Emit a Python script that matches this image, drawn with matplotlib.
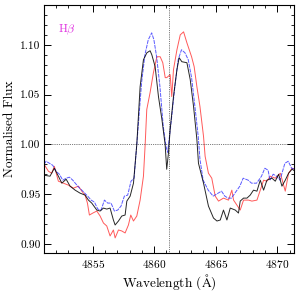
import matplotlib
matplotlib.use("Agg")
import matplotlib.pyplot as plt
from matplotlib.ticker import MultipleLocator, FormatStrFormatter

plt.rcParams["font.family"] = "serif"
plt.rcParams["font.serif"] = ["cmr10", "DejaVu Serif"]
plt.rcParams["mathtext.fontset"] = "cm"
plt.rcParams["axes.formatter.use_mathtext"] = True
plt.rcParams["axes.unicode_minus"] = False

line_centre = 4861.24

black_wave = [4851.06, 4851.54, 4851.89, 4852.22, 4852.50, 4852.85, 4853.17, 4853.58, 4853.98,
              4854.39, 4854.66, 4854.93, 4855.34, 4855.61, 4855.88, 4856.15, 4856.42, 4856.69,
              4856.83, 4857.10, 4857.37, 4857.64, 4857.78, 4858.05, 4858.32, 4858.59, 4858.86,
              4859.13, 4859.41, 4859.67, 4859.81, 4860.08, 4860.35, 4860.63, 4860.89, 4861.02,
              4861.16, 4861.30, 4861.57, 4861.85, 4862.03, 4862.25, 4862.66, 4862.93, 4863.20,
              4863.47, 4863.60, 4864.01, 4864.41, 4864.82, 4865.10, 4865.37, 4865.63, 4865.91,
              4866.18, 4866.59, 4866.85, 4866.99, 4867.26, 4867.54, 4867.80, 4868.07, 4868.35,
              4868.62, 4868.89, 4869.16, 4869.57, 4869.84, 4870.11, 4870.38, 4870.65, 4870.92,
              4871.20, 4871.46]
black_flux = [0.969, 0.968, 0.976, 0.968, 0.961, 0.965, 0.958, 0.954, 0.951,
              0.949, 0.944, 0.941, 0.934, 0.933, 0.936, 0.935, 0.936, 0.924,
              0.919, 0.923, 0.928, 0.929, 0.943, 0.948, 0.961, 1.000, 1.058,
              1.085, 1.092, 1.094, 1.090, 1.078, 1.048, 1.025, 1.000, 0.975,
              0.991, 1.015, 1.048, 1.075, 1.087, 1.083, 1.082, 1.065, 1.038,
              1.005, 0.981, 0.961, 0.938, 0.926, 0.923, 0.924, 0.934, 0.924,
              0.936, 0.934, 0.931, 0.943, 0.946, 0.946, 0.949, 0.954, 0.953,
              0.964, 0.954, 0.964, 0.966, 0.963, 0.970, 0.958, 0.964, 0.971,
              0.975, 0.973]

blue_wave = [4851.06, 4851.22, 4851.49, 4851.76, 4852.03, 4852.30, 4852.58, 4852.85, 4853.12,
             4853.39, 4853.79, 4854.20, 4854.60, 4854.88, 4855.15, 4855.42, 4855.69, 4855.96,
             4856.23, 4856.50, 4856.77, 4857.04, 4857.31, 4857.58, 4857.85, 4858.12, 4858.37,
             4858.59, 4858.98, 4859.25, 4859.52, 4859.80, 4859.98, 4860.20, 4860.47, 4860.74,
             4860.96, 4861.10, 4861.40, 4861.68, 4861.95, 4862.22, 4862.50, 4862.77, 4863.04,
             4863.31, 4863.58, 4863.72, 4863.98, 4864.39, 4864.79, 4865.20, 4865.47, 4865.74,
             4866.01, 4866.28, 4866.56, 4866.96, 4867.23, 4867.64, 4867.91, 4868.32, 4868.72,
             4868.99, 4869.26, 4869.40, 4869.67, 4869.94, 4870.22, 4870.62, 4870.89, 4871.17,
             4871.46]
blue_flux = [0.980, 0.983, 0.981, 0.979, 0.973, 0.970, 0.964, 0.966, 0.967,
             0.964, 0.958, 0.953, 0.948, 0.944, 0.942, 0.935, 0.934, 0.944,
             0.941, 0.941, 0.933, 0.934, 0.938, 0.948, 0.949, 0.963, 0.966,
             1.000, 1.062, 1.090, 1.105, 1.112, 1.105, 1.088, 1.058, 1.018,
             0.998, 0.992, 1.025, 1.058, 1.085, 1.095, 1.092, 1.085, 1.067,
             1.038, 1.008, 0.985, 0.964, 0.954, 0.948, 0.951, 0.953, 0.948,
             0.946, 0.946, 0.951, 0.958, 0.966, 0.964, 0.961, 0.961, 0.968,
             0.976, 0.974, 0.964, 0.970, 0.968, 0.964, 0.981, 0.983, 0.976,
             0.975]

red_wave = [4851.06, 4851.41, 4851.68, 4851.89, 4852.22, 4852.63, 4853.04, 4853.44, 4853.85,
            4854.12, 4854.39, 4854.58, 4854.74, 4855.02, 4855.34, 4855.61, 4855.88, 4856.15,
            4856.42, 4856.69, 4856.83, 4857.10, 4857.37, 4857.64, 4857.91, 4858.10, 4858.32,
            4858.59, 4858.86, 4859.13, 4859.27, 4859.40, 4859.67, 4859.94, 4860.22, 4860.49,
            4860.70, 4860.90, 4861.02, 4861.30, 4861.43, 4861.57, 4861.85, 4862.12, 4862.39,
            4862.66, 4862.85, 4863.04, 4863.25, 4863.47, 4863.72, 4864.01, 4864.14, 4864.41,
            4864.68, 4864.96, 4865.23, 4865.63, 4866.04, 4866.31, 4866.45, 4866.72, 4866.99,
            4867.26, 4867.67, 4867.94, 4868.35, 4868.62, 4868.89, 4869.16, 4869.43, 4869.84,
            4870.25, 4870.65, 4870.92, 4871.20, 4871.46]
red_flux = [0.980, 0.973, 0.971, 0.978, 0.963, 0.961, 0.959, 0.956, 0.958,
            0.953, 0.949, 0.941, 0.929, 0.931, 0.933, 0.928, 0.921, 0.918,
            0.908, 0.914, 0.906, 0.914, 0.913, 0.911, 0.919, 0.929, 0.923,
            0.928, 0.944, 0.968, 1.000, 1.035, 1.052, 1.072, 1.088, 1.088,
            1.082, 1.067, 1.067, 1.070, 1.048, 1.075, 1.095, 1.110, 1.113,
            1.102, 1.095, 1.088, 1.078, 1.058, 1.038, 1.008, 0.988, 0.971,
            0.966, 0.948, 0.943, 0.946, 0.944, 0.954, 0.944, 0.939, 0.934,
            0.944, 0.944, 0.943, 0.944, 0.954, 0.964, 0.963, 0.968, 0.966,
            0.971, 0.953, 0.971, 0.976, 0.975]

fig = plt.figure(figsize=(3.0, 2.92), dpi=100)
ax = fig.add_axes([0.147, 0.134, 0.833, 0.849])

ax.plot(red_wave, red_flux, color="#ff3030", lw=0.7, alpha=0.8)
ax.plot(blue_wave, blue_flux, color="#3030ff", lw=0.7, ls="--", dashes=(4, 1), alpha=0.8)
ax.plot(black_wave, black_flux, color="k", lw=0.7, alpha=0.85)

ax.axvline(line_centre, color="k", lw=0.5, ls=":")
ax.axhline(1.0, color="k", lw=0.5, ls=":")

ax.set_xlim(4851.06, 4871.36)
ax.set_ylim(0.891, 1.140)
ax.xaxis.set_major_locator(MultipleLocator(5))
ax.xaxis.set_minor_locator(MultipleLocator(1))
ax.yaxis.set_major_locator(MultipleLocator(0.05))
ax.yaxis.set_minor_locator(MultipleLocator(0.01))
ax.yaxis.set_major_formatter(FormatStrFormatter("%.2f"))
ax.tick_params(which="both", direction="in", top=True, right=True, labelsize=8.2)
ax.tick_params(which="major", length=5, width=0.7)
ax.tick_params(axis="x", which="major", pad=3.5)
ax.tick_params(axis="y", which="major", pad=2.5)
ax.tick_params(which="minor", length=2.5, width=0.6)

ax.set_xlabel(r"Wavelength ($\mathrm{\AA}$)", fontsize=9.6, labelpad=2)
ax.set_ylabel("Normalised Flux", fontsize=9.6, labelpad=3)
ax.text(0.056, 0.90, r"H$\beta$", transform=ax.transAxes, color="#e030e0", fontsize=8.5,
        va="center", ha="left")

fig.savefig("out.png", dpi=100)
